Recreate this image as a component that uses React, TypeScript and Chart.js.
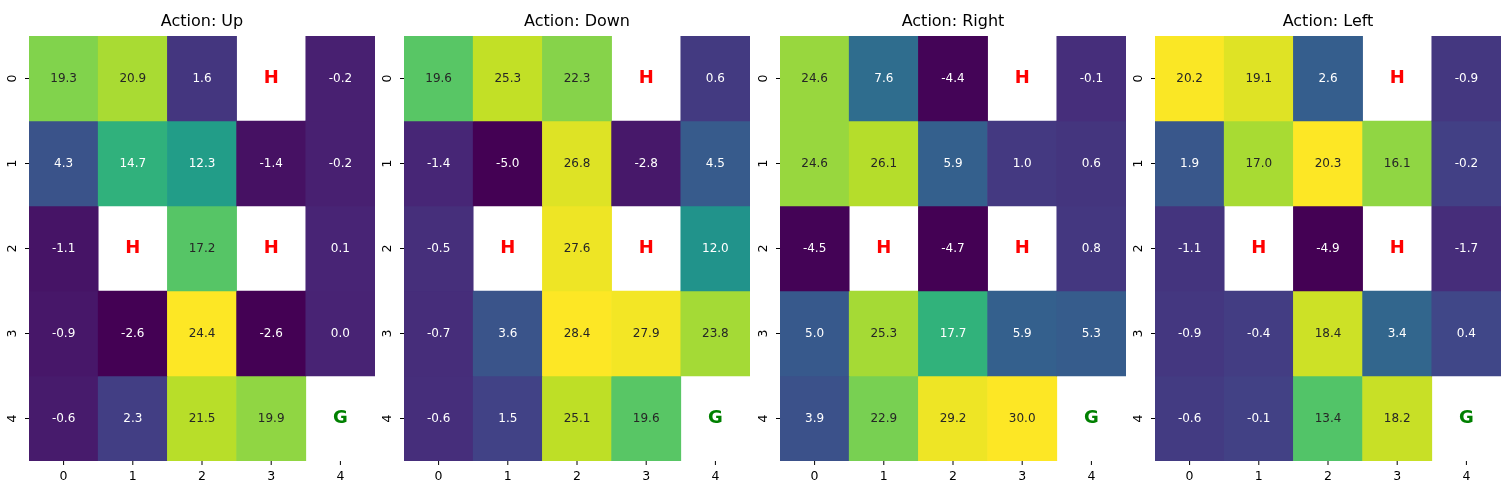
import { useEffect, useRef } from 'react'
import { Chart, registerables } from 'chart.js'

Chart.register(...registerables)

const titles = ['Action: Up', 'Action: Down', 'Action: Right', 'Action: Left']
const tickLabels = ['0', '1', '2', '3', '4']
// H = hole, G = goal, . = normal cell
const terrain = ['...H.', '.....', '.H.H.', '.....', '....G']

const upValues = [
  [19.3, 20.9, 1.6, null, -0.2],
  [4.3, 14.7, 12.3, -1.4, -0.2],
  [-1.1, null, 17.2, null, 0.1],
  [-0.9, -2.6, 24.4, -2.6, 0.0],
  [-0.6, 2.3, 21.5, 19.9, null],
]
const downValues = [
  [19.6, 25.3, 22.3, null, 0.6],
  [-1.4, -5.0, 26.8, -2.8, 4.5],
  [-0.5, null, 27.6, null, 12.0],
  [-0.7, 3.6, 28.4, 27.9, 23.8],
  [-0.6, 1.5, 25.1, 19.6, null],
]
const rightValues = [
  [24.6, 7.6, -4.4, null, -0.1],
  [24.6, 26.1, 5.9, 1.0, 0.6],
  [-4.5, null, -4.7, null, 0.8],
  [5.0, 25.3, 17.7, 5.9, 5.3],
  [3.9, 22.9, 29.2, 30.0, null],
]
const leftValues = [
  [20.2, 19.1, 2.6, null, -0.9],
  [1.9, 17.0, 20.3, 16.1, -0.2],
  [-1.1, null, -4.9, null, -1.7],
  [-0.9, -0.4, 18.4, 3.4, 0.4],
  [-0.6, -0.1, 13.4, 18.2, null],
]
const panels = [upValues, downValues, rightValues, leftValues]
const panelLefts = [29, 404, 780, 1155]

const viridis = ['#440154', '#482475', '#414487', '#355f8d', '#2a788e', '#21918c', '#22a884', '#44bf70', '#7ad151', '#bddf26', '#fde725']

function hexRgb(h: string) {
  return [1, 3, 5].map(i => parseInt(h.slice(i, i + 2), 16))
}

function cmap(t: number) {
  t = Math.max(0, Math.min(1, t))
  const p = t * (viridis.length - 1)
  const i = Math.min(Math.floor(p), viridis.length - 2)
  const f = p - i
  const a = hexRgb(viridis[i]), b = hexRgb(viridis[i + 1])
  return a.map((v, k) => Math.round(v + (b[k] - v) * f))
}

function lum(rgb: number[]) {
  const c = rgb.map(v => {
    v /= 255
    return v <= 0.03928 ? v / 12.92 : Math.pow((v + 0.055) / 1.055, 2.4)
  })
  return 0.2126 * c[0] + 0.7152 * c[1] + 0.0722 * c[2]
}

const FONT = "'DejaVu Sans', sans-serif"

function Panel({ idx }: { idx: number }) {
  const canvasRef = useRef<HTMLCanvasElement>(null)

  useEffect(() => {
    if (!canvasRef.current) return
    const vals = panels[idx]
    const flat = vals.flat().filter(v => v !== null) as number[]
    const vmin = Math.min(...flat), vmax = Math.max(...flat)
    const colorOf = (v: number | null) => v === null ? null : cmap((v - vmin) / (vmax - vmin))

    const datasets = vals.map((row, r) => ({
      data: row.map(() => [r - 0.5, r + 0.5] as [number, number]),
      backgroundColor: row.map(v => {
        const c = colorOf(v)
        return c ? `rgb(${c.join(',')})` : 'rgba(0,0,0,0)'
      }),
      borderWidth: 0,
      barPercentage: 1,
      categoryPercentage: 1,
      grouped: false,
    }))

    const overlay = {
      id: 'overlay',
      afterDraw(chart: any) {
        const { ctx, chartArea, scales } = chart
        const xs = scales.x, ys = scales.y
        ctx.save()
        ctx.textAlign = 'center'
        ctx.textBaseline = 'middle'
        vals.forEach((row, r) => row.forEach((v, c) => {
          const x = xs.getPixelForValue(c), y = ys.getPixelForValue(r)
          const t = terrain[r][c]
          if (t === 'H' || t === 'G') {
            ctx.font = `bold 18px ${FONT}`
            ctx.fillStyle = t === 'H' ? '#ff0000' : '#008000'
            ctx.fillText(t, x, y)
          } else if (v !== null) {
            const col = colorOf(v)!
            ctx.font = `12px ${FONT}`
            ctx.fillStyle = lum(col) > 0.408 ? '#262626' : '#ffffff'
            ctx.fillText(v.toFixed(1), x, y)
          }
        }))
        // ticks
        ctx.strokeStyle = '#000'
        ctx.fillStyle = '#000'
        ctx.lineWidth = 1
        ctx.font = `12.5px ${FONT}`
        tickLabels.forEach((lab, i) => {
          const x = xs.getPixelForValue(i)
          ctx.beginPath(); ctx.moveTo(x, chartArea.bottom); ctx.lineTo(x, chartArea.bottom + 4); ctx.stroke()
          ctx.fillText(lab, x, chartArea.bottom + 16)
          const y = ys.getPixelForValue(i)
          ctx.beginPath(); ctx.moveTo(chartArea.left, y); ctx.lineTo(chartArea.left - 4, y); ctx.stroke()
          ctx.save(); ctx.translate(chartArea.left - 16, y); ctx.rotate(-Math.PI / 2)
          ctx.fillText(lab, 0, 0); ctx.restore()
        })
        ctx.font = `16px ${FONT}`
        ctx.fillText(titles[idx], (chartArea.left + chartArea.right) / 2, 22)
        ctx.restore()
      },
    }

    const chart = new Chart(canvasRef.current, {
      type: 'bar',
      data: { labels: tickLabels, datasets: datasets as any },
      options: {
        animation: false,
        responsive: false,
        layout: { padding: { left: 29, top: 36, right: 3, bottom: 39 } },
        plugins: { legend: { display: false }, tooltip: { enabled: false } },
        scales: {
          x: { display: false, stacked: false },
          y: { display: false, min: -0.5, max: 4.5, reverse: true },
        },
      },
      plugins: [overlay],
    })
    return () => chart.destroy()
  }, [idx])

  return (
    <canvas
      ref={canvasRef}
      width={378}
      height={500}
      style={{ position: 'absolute', left: panelLefts[idx] - 29, top: 0, width: 378, height: 500 }}
    />
  )
}

export default function App() {
  return (
    <div style={{ position: 'fixed', left: 0, top: 0, width: 1512, height: 500, background: '#fff' }}>
      {[0, 1, 2, 3].map(i => <Panel key={i} idx={i} />)}
    </div>
  )
}
